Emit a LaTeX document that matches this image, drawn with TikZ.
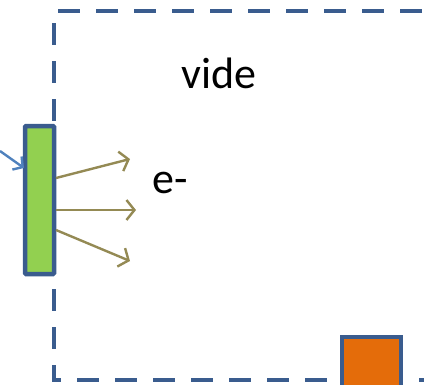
\documentclass[tikz,border=0pt]{standalone}
\usepackage{fontspec}
\setmainfont{Carlito}
\usetikzlibrary{arrows.meta}
\definecolor{frameblue}{HTML}{3A5C8E}
\definecolor{inblue}{HTML}{4F81BD}
\definecolor{olive}{HTML}{948A54}
\definecolor{leafgreen}{HTML}{92D050}
\definecolor{rust}{HTML}{E46C0A}
\tikzset{
  chamber/.style={draw=frameblue, line width=4.5bp, dash pattern=on 22bp off 16bp},
  plate/.style={draw=frameblue, line width=4.5bp, fill=leafgreen, rounded corners=1bp},
  target/.style={draw=frameblue, line width=4.5bp, fill=rust},
  electron/.style={draw=olive, line width=2.4bp, -{Straight Barb[length=8bp,width=20bp,line width=2.4bp]}},
  photon/.style={draw=inblue, line width=2.4bp, -{Straight Barb[length=7bp,width=16bp,line width=2.4bp]}},
  label/.style={font=\fontsize{44bp}{48bp}\selectfont, inner sep=0pt, anchor=base}
}
\begin{document}
\begin{tikzpicture}[x=1bp,y=-1bp]
  \useasboundingbox (0,0) rectangle (424,385);
  \begin{scope}
    \clip (0,0) rectangle (424,385);
    % vacuum chamber outline
    \draw[chamber] (460,11) -- (54,11) -- (54,380) -- (460,380);
    % target block at the bottom
    \draw[target] (342,337) rectangle (401,400);
  \end{scope}
  % emitting plate
  \draw[plate] (25,126) rectangle (54,274);
  \coordinate (p1) at (56,178);
  \coordinate (p2) at (56,210);
  \coordinate (p3) at (56,230);
  \coordinate (e1) at (130,159);
  \coordinate (e2) at (136,210);
  \coordinate (e3) at (130,261);
  \coordinate (src) at (0,151);
  \coordinate (hit) at (24,168);
  % incoming light
  \draw[photon] (src) -- (hit);
  % emitted electrons
  \draw[electron] (p1) -- (e1);
  \draw[electron] (p2) -- (e2);
  \draw[electron] (p3) -- (e3);
  \node[label] (vide) at (219,88) {vide};
  \node[label] (elec) at (170,193) {e-};
\end{tikzpicture}
\end{document}
